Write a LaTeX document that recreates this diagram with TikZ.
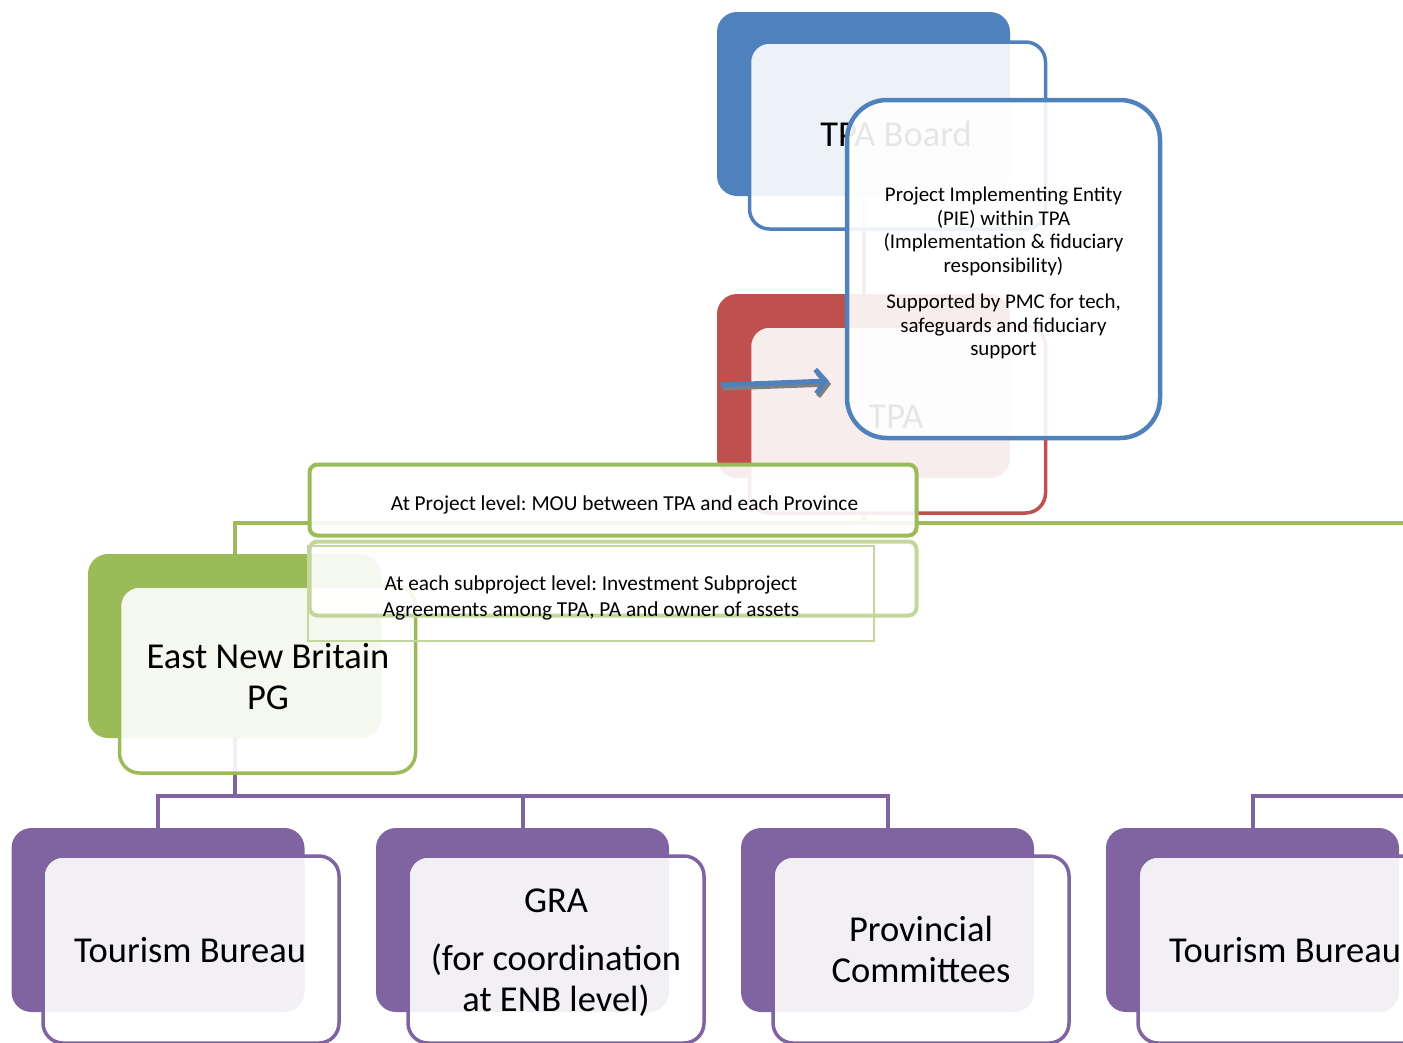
\documentclass[tikz,border=0pt]{standalone}
\usepackage{fontspec}
\setmainfont{Carlito}
\usetikzlibrary{arrows.meta}
\definecolor{cblue}{HTML}{4F81BD}
\definecolor{cred}{HTML}{C0504D}
\definecolor{cgreen}{HTML}{9BBB59}
\definecolor{cpurple}{HTML}{8064A2}
\definecolor{lgreen}{HTML}{C3D69B}
\definecolor{shadowgray}{HTML}{7F7F7F}
\frenchspacing
\begin{document}
\begin{tikzpicture}[x=1pt,y=-1pt,
  backbox/.style={rounded corners=20pt, minimum width=293pt, minimum height=184pt, inner sep=0pt, draw=none},
  frontbox/.style={rounded corners=20pt, minimum width=296pt, minimum height=187pt, inner sep=0pt,
    line width=3.5pt, fill=white, fill opacity=0.9, text opacity=1, align=center,
    font=\fontsize{36.5}{41}\selectfont},
  bigtext/.style={font=\fontsize{36.5}{41}\selectfont, align=center, inner sep=0pt},
  conn/.style={line width=4pt},
  bandbox/.style={rounded corners=8pt, minimum width=607pt, inner sep=0pt, line width=4pt,
    fill=white, fill opacity=0.9},
  smalltext/.style={font=\fontsize{21.3}{26}\selectfont, align=center, inner sep=0pt}
]
\useasboundingbox (0,0) rectangle (1403,1042);
\clip (0,0) rectangle (1403,1042);

% back boxes
\node[backbox, fill=cblue] (tpabB) at (863.5,104) {};
\node[backbox, fill=cred] (tpaB) at (863.5,386) {};
\node[backbox, fill=cgreen] (enbB) at (234.5,646) {};
\node[backbox, fill=cpurple] (b1B) at (158,920) {};
\node[backbox, fill=cpurple] (b2B) at (522.5,920) {};
\node[backbox, fill=cpurple] (b3B) at (887.5,920) {};
\node[backbox, fill=cpurple] (b4B) at (1252.5,920) {};

% connectors
\coordinate (gj) at (863.5,523);
\coordinate (gr) at (1420,523);
\coordinate (pj) at (234.5,796);
\coordinate (pr) at (1420,796);
\draw[conn, cred] (tpabB.south) -- (tpaB.north);
\draw[conn, cgreen] (tpaB.south) -- (gj) -| (enbB.north);
\draw[conn, cgreen] (gj) -- (gr);
\draw[conn, cpurple] (enbB.south) -- (pj);
\draw[conn, cpurple] (pj) -| (b1B.north);
\draw[conn, cpurple] (pj) -| (b2B.north);
\draw[conn, cpurple] (pj) -| (b3B.north);
\draw[conn, cpurple] (b4B.north) |- (pr);

% front boxes
\node[frontbox, draw=cblue] (tpab) at (897.5,135.5) {};
\node[bigtext] (tpabt) at (896,134) {TPA Board};
\node[frontbox, draw=cred] (tpa) at (897.5,419.5) {};
\node[bigtext] (tpat) at (896,417) {TPA};
\node[frontbox, draw=cgreen] (enb) at (267.5,679.5) {};
\node[bigtext] (enbt) at (268,676.5) {East New Britain\\PG};
\node[frontbox, draw=cpurple] (b1) at (191,949.5) {};
\node[bigtext] (b1t) at (190,950) {Tourism Bureau};
\node[frontbox, draw=cpurple] (b2) at (556,949.5) {};
\node[bigtext] (b2t) at (556,952.5) {GRA\\[17pt](for coordination\\at ENB level)};
\node[frontbox, draw=cpurple] (b3) at (921,949.5) {};
\node[bigtext] (b3t) at (921,949.5) {Provincial\\Committees};
\node[frontbox, draw=cpurple] (b4) at (1286,949.5) {};
\node[bigtext] (b4t) at (1285,950) {Tourism Bureau};

% PIE box
\node[draw=cblue, line width=4.5pt, rounded corners=40pt, minimum width=313pt, minimum height=338pt,
  fill=white, fill opacity=0.9, inner sep=0pt] (pie) at (1003.5,269) {};
\node[align=center, inner sep=0pt, font=\fontsize{20.9}{23.5}\selectfont] (piet) at (1003.5,273)
  {Project Implementing Entity\\(PIE) within TPA\\(Implementation \& fiduciary\\responsibility)\\[13pt]
   Supported by PMC for tech,\\safeguards and fiduciary\\support};

% arrow
\coordinate (a1) at (721,385);
\coordinate (a2) at (829,381);
\draw[shadowgray, line width=5pt, -{Straight Barb[length=10pt,width=24pt]}]
  ([shift={(2,3)}]a1) -- ([shift={(2,3)}]a2);
\draw[cblue, line width=5pt, -{Straight Barb[length=10pt,width=24pt]}] (a1) -- (a2);

% agreement bands
\node[bandbox, draw=cgreen, minimum height=71pt] (mou) at (613,500) {};
\node[smalltext] (mout) at (624.5,505) {At Project level: MOU between TPA and each Province};
\node[bandbox, draw=lgreen, minimum height=74pt] (sub) at (613,578.5) {};
\node[draw=lgreen, line width=1.5pt, minimum width=566pt, minimum height=95pt, inner sep=0pt] (subr) at (591,593.5) {};
\node[smalltext] (subt) at (591,597.5)
  {At each subproject level: Investment Subproject\\Agreements among TPA, PA and owner of assets};
\end{tikzpicture}
\end{document}
